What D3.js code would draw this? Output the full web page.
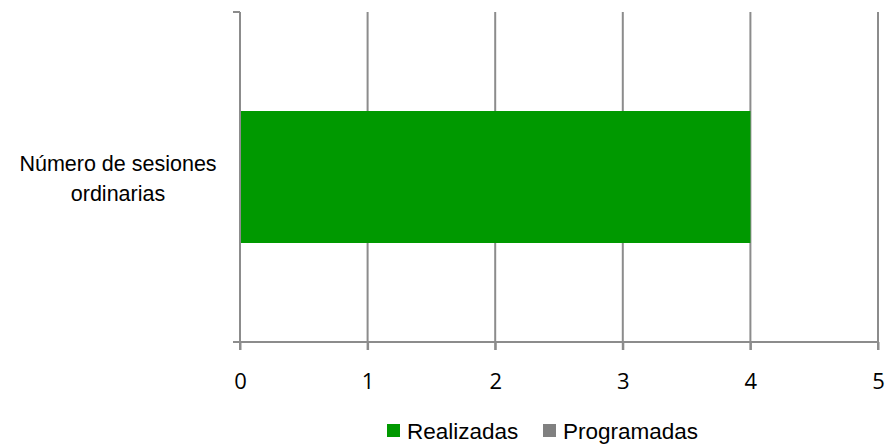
<!DOCTYPE html>
<html>
<head>
<meta charset="utf-8">
<script src="https://cdn.jsdelivr.net/npm/d3@7"></script>
<style>
  body { margin: 0; background: #fff; }
  .tick text { font-family: "Open Sans", "DejaVu Sans", sans-serif; font-size: 22px; fill: #000; }
  .label { font-family: "Liberation Sans Narrow", "Liberation Sans", Arial, sans-serif; font-size: 21.5px; fill: #000; }
  .leg { font-family: "Liberation Sans Narrow", "Liberation Sans", Arial, sans-serif; font-size: 22.5px; fill: #000; }
</style>
</head>
<body>
<script>
// data
var categories = ["Número de sesiones ordinarias"];
var seriesNames = ["Realizadas", "Programadas"];
var realizadas = [4];
var programadas = [0];
var xTicks = [0, 1, 2, 3, 4, 5];
var colors = ["#009900", "#808080"];

var margin = {top: 12, right: 12, bottom: 106, left: 240},
    width = 890 - margin.left - margin.right,
    height = 448 - margin.top - margin.bottom;

var svg = d3.select("body").append("svg")
    .attr("width", 890)
    .attr("height", 448)
  .append("g")
    .attr("transform", "translate(" + margin.left + "," + margin.top + ")");

var x = d3.scaleLinear().domain([0, 5]).range([0, width]);
var y = d3.scaleBand().domain(categories).range([0, height]).paddingInner(0.6).paddingOuter(0.3);

// gridlines
svg.append("g")
  .selectAll("line")
  .data(xTicks.slice(1))
  .enter()
  .append("line")
  .attr("x1", function(d) { return x(d); })
  .attr("x2", function(d) { return x(d); })
  .attr("y1", 0)
  .attr("y2", height + 8)
  .attr("stroke", "#8c8c8c")
  .attr("stroke-width", 2);

// bars
var rows = categories.map(function(c, i) { return {cat: c, r: realizadas[i], p: programadas[i]}; });
svg.selectAll(".bar")
  .data(rows)
  .enter()
  .append("rect")
  .attr("class", "bar")
  .attr("x", x(0))
  .attr("y", function(d) { return y(d.cat); })
  .attr("width", function(d) { return x(d.r) - x(0); })
  .attr("height", y.bandwidth())
  .attr("fill", colors[0]);

svg.selectAll(".bar2")
  .data(rows)
  .enter()
  .append("rect")
  .attr("class", "bar2")
  .attr("x", function(d) { return x(d.r); })
  .attr("y", function(d) { return y(d.cat); })
  .attr("width", function(d) { return x(d.p) - x(0); })
  .attr("height", y.bandwidth())
  .attr("fill", colors[1]);

// x axis
var xAxis = svg.append("g")
  .attr("transform", "translate(0," + height + ")")
  .call(d3.axisBottom(x).tickValues(xTicks).tickFormat(d3.format("d")).tickSize(8).tickPadding(23));
xAxis.select(".domain").attr("stroke", "#8c8c8c").attr("stroke-width", 2).attr("d", "M-7,0H" + width);
xAxis.selectAll(".tick line").attr("stroke", "#8c8c8c").attr("stroke-width", 2);

// y axis
svg.append("line")
  .attr("x1", 0).attr("x2", 0)
  .attr("y1", 0).attr("y2", height + 8)
  .attr("stroke", "#8c8c8c").attr("stroke-width", 2);
svg.append("line")
  .attr("x1", -7).attr("x2", 0)
  .attr("y1", 0).attr("y2", 0)
  .attr("stroke", "#8c8c8c").attr("stroke-width", 2);

// category label
var catText = svg.append("text")
  .attr("class", "label")
  .attr("x", -122)
  .attr("y", y(categories[0]) + y.bandwidth() / 2 - 6)
  .attr("text-anchor", "middle");
catText.append("tspan").attr("x", -122).text("Número de sesiones");
catText.append("tspan").attr("x", -122).attr("dy", "1.4em").text("ordinarias");

// legend
var legend = d3.select("svg").append("g").attr("transform", "translate(387,424)");
var lx = [0, 156];
seriesNames.forEach(function(s, i) {
  legend.append("rect")
    .attr("x", lx[i]).attr("y", 0)
    .attr("width", 13).attr("height", 13)
    .attr("fill", colors[i]);
  legend.append("text")
    .attr("class", "leg")
    .attr("x", lx[i] + 20).attr("y", 15)
    .text(s);
});
</script>
</body>
</html>
